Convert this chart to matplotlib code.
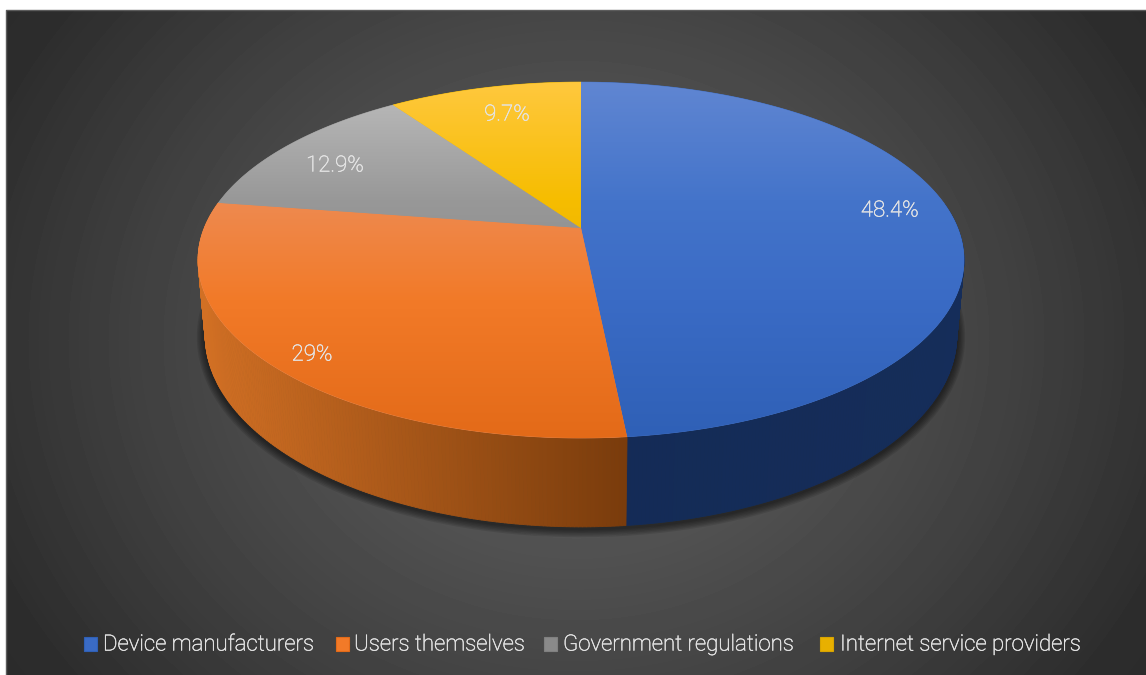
import numpy as np
import matplotlib
matplotlib.use("Agg")
import matplotlib.pyplot as plt
import matplotlib.patheffects as pe
from matplotlib.collections import PolyCollection
from matplotlib.colors import to_rgb
from matplotlib.patches import Polygon, Rectangle

categories = ["Device manufacturers", "Users themselves",
              "Government regulations", "Internet service providers"]
shares = [48.4, 29, 12.9, 9.7]

W, H = 1146, 675
FONT = "Roboto"
FONT_SIZE = 16
TEXT_COLOR = "#e4e4e4"
LABEL_XY = [(890, 211), (312, 355), (335, 166), (507, 115)]
LEGEND_X = [(84, 103), (336, 354), (544, 563), (820, 840)]
LEGEND_Y = 645

# colour of the top face against picture height
GRAD_Y = [82, 200, 300, 440]
TOP_COLORS = [
    ["#6086d2", "#4474ca", "#3a6bc5", "#2f60b6"],
    ["#f7a26e", "#ee8a50", "#f27a28", "#e36a18"],
    ["#bdbdbd", "#989898", "#8a8a8a", "#808080"],
    ["#ffc83e", "#f6bd00", "#e8b000", "#d8a400"],
]
# colour of the rim from its left end to its right end
SIDE_COLORS = [
    ("#142b56", "#152d5a"),
    ("#d27024", "#7a3c0c"),
    ("#666666", "#666666"),
    ("#8f6f00", "#8f6f00"),
]

CX = 581


def project(theta, r, a, c, ax_x, y0):
    # perspective view of a disc, theta runs clockwise from twelve o'clock
    u, v = r * np.sin(theta), r * np.cos(theta)
    d = 1 + c * v
    return CX + ax_x * u / d, y0 - a * v / d


def top_face(theta, r=1.0):
    return project(theta, r, 172.2, 0.18, 376.7, 228)


def bottom_face(theta):
    return project(theta, 1.0, 186, 0.175, 370, 301.4)


fig = plt.figure(figsize=(W / 100, H / 100), dpi=100, facecolor="white")
ax = fig.add_axes([0, 0, 1, 1])

# dark radial backdrop
yy, xx = np.mgrid[10:H, 6:W]
dist = np.sqrt(((xx - 576) / 640.0) ** 2 + ((yy - 340) / 560.0) ** 2)
shade = np.interp(dist, [0, 0.35, 0.7, 1.0, 1.3], [0.345, 0.325, 0.25, 0.175, 0.155])
ax.imshow(shade, extent=(6, W, H, 10), cmap="gray", vmin=0, vmax=1, aspect="auto", zorder=0)
ax.plot([6, 6, W], [H, 10, 10], color="#5c5c5c", lw=1.0, zorder=1)

edges = np.cumsum([0] + shares) / sum(shares) * 2 * np.pi

# soft shadow round the outer rim
ring = np.linspace(0, 2 * np.pi, 361)
sx, sy = bottom_face(ring)
keep = np.cos(ring) < 0.15
for lw in np.arange(12, 1, -2.0):
    ax.plot(sx[keep], sy[keep] + 2, color="black", lw=lw, alpha=0.1,
            solid_capstyle="round", zorder=2)

# rim quads, one small slab per step round the pie; the far half stays hidden
for i in range(len(shares)):
    th = np.linspace(edges[i], edges[i + 1], max(int(np.degrees(edges[i + 1] - edges[i])), 2) * 2)
    x1, y1 = top_face(th)
    x2, y2 = bottom_face(th)
    quads, cols = [], []
    left, right = np.array(to_rgb(SIDE_COLORS[i][0])), np.array(to_rgb(SIDE_COLORS[i][1]))
    xmin, xmax = min(x1.min(), x2.min()), max(x1.max(), x2.max())
    for k in range(len(th) - 1):
        if np.cos(th[k]) > 0.15:
            continue
        quads.append([(x1[k], y1[k]), (x1[k + 1], y1[k + 1]), (x2[k + 1], y2[k + 1]), (x2[k], y2[k])])
        f = (x1[k] - xmin) / (xmax - xmin)
        cols.append(left + (right - left) * f)
    if quads:
        ax.add_collection(PolyCollection(quads, facecolors=cols, edgecolors=cols, linewidths=0.6, zorder=3))


def gradient(stops):
    ys = np.linspace(GRAD_Y[0], GRAD_Y[-1], 256)
    rgb = np.array([to_rgb(c) for c in stops])
    return np.stack([np.interp(ys, GRAD_Y, rgb[:, j]) for j in range(3)], axis=1)[:, None, :]


# top faces with their vertical gradient, a flat wedge underneath closes the seams
for i in range(len(shares)):
    th = np.linspace(edges[i], edges[i + 1], 200)
    x, y = top_face(th)
    pts = np.column_stack([np.r_[CX, x], np.r_[228, y]])
    ax.add_patch(Polygon(pts, closed=True, fc=TOP_COLORS[i][1], ec=TOP_COLORS[i][1], lw=0.5, zorder=3.5))
    im = ax.imshow(gradient(TOP_COLORS[i]), extent=(190, 970, GRAD_Y[-1], GRAD_Y[0]),
                   aspect="auto", zorder=4)
    clip = Polygon(pts, closed=True, transform=ax.transData, fc="none", ec="none")
    ax.add_patch(clip)
    im.set_clip_path(clip)

thicken = [pe.withStroke(linewidth=0.35, foreground=TEXT_COLOR)]

# value labels
for v, (lx, ly) in zip(shares, LABEL_XY):
    ax.text(lx, ly, f"{v:g}%", color=TEXT_COLOR, fontsize=FONT_SIZE, family=FONT, weight="light",
            ha="center", va="center", zorder=5, path_effects=thicken)

# legend
for i, name in enumerate(categories):
    bx, tx0 = LEGEND_X[i]
    ax.add_patch(Rectangle((bx, LEGEND_Y - 8), 13, 14, fc=TOP_COLORS[i][2],
                           ec=TOP_COLORS[i][3], lw=0.8, zorder=5))
    ax.text(tx0, LEGEND_Y, name, color=TEXT_COLOR, fontsize=FONT_SIZE, family=FONT, weight="light",
            ha="left", va="center", zorder=5, path_effects=thicken)

ax.set_xlim(0, W)
ax.set_ylim(H, 0)
ax.axis("off")
fig.savefig("out.png", dpi=100, facecolor="white")
